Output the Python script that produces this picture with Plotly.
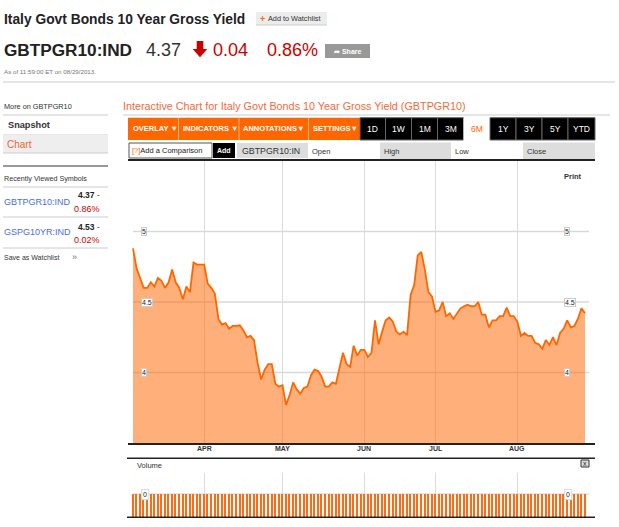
import plotly.graph_objects as go

W, H = 619, 527
FONT = "Liberation Sans, Arial, sans-serif"

# ---------------- data ----------------
yields = [4.88, 4.74, 4.67, 4.60, 4.60, 4.64, 4.61, 4.67, 4.65, 4.60,
          4.64, 4.73, 4.64, 4.60, 4.52, 4.61, 4.57, 4.78, 4.765, 4.765,
          4.765, 4.63, 4.60, 4.56, 4.38, 4.34, 4.35, 4.31, 4.33, 4.33,
          4.335, 4.30, 4.25, 4.26, 4.23, 4.07, 3.95, 4.02, 4.06, 4.06,
          3.92, 3.90, 3.91, 3.77, 3.84, 3.93, 3.88, 3.85, 3.89, 3.90,
          3.98, 4.02, 4.01, 3.97, 3.90, 3.90, 3.93, 3.92, 4.03, 4.14,
          4.06, 4.04, 4.19, 4.12, 4.16, 4.16, 4.11, 4.14, 4.37, 4.20,
          4.29, 4.37, 4.39, 4.36, 4.29, 4.27, 4.29, 4.265, 4.55, 4.62,
          4.83, 4.855, 4.73, 4.57, 4.54, 4.43, 4.44, 4.50, 4.40, 4.42,
          4.38, 4.42, 4.455, 4.47, 4.48, 4.47, 4.47, 4.50, 4.41, 4.41,
          4.32, 4.37, 4.37, 4.40, 4.40, 4.46, 4.40, 4.40, 4.36, 4.26,
          4.28, 4.26, 4.26, 4.21, 4.20, 4.17, 4.23, 4.195, 4.25, 4.195,
          4.28, 4.31, 4.37, 4.32, 4.33, 4.38, 4.455, 4.42]
trading_day = list(range(len(yields)))
volume = [0] * len(yields)

month_labels = ["APR", "MAY", "JUN", "JUL", "AUG"]
month_pos = [20, 42, 65, 85, 108]          # trading-day index of month start
y_ticks = [4, 4.5, 5]
y_tick_labels = ["4", "4.5", "5"]


def X(px):
    return px / W


def Y(py):
    return 1 - py / H


shapes = []
annotations = []


def rect(x0, y0, x1, y1, fill, line=None, lw=0):
    shapes.append(dict(type="rect", xref="paper", yref="paper",
                       x0=X(x0), x1=X(x1), y0=Y(y1), y1=Y(y0),
                       fillcolor=fill, line=dict(color=line or fill, width=lw)))


def hline(x0, x1, y, color, w=1):
    shapes.append(dict(type="line", xref="paper", yref="paper",
                       x0=X(x0), x1=X(x1), y0=Y(y), y1=Y(y),
                       line=dict(color=color, width=w)))


def vline(x, y0, y1, color, w=1):
    shapes.append(dict(type="line", xref="paper", yref="paper",
                       x0=X(x), x1=X(x), y0=Y(y0), y1=Y(y1),
                       line=dict(color=color, width=w)))


def text(x, y, s, size, color, anchor="left"):
    annotations.append(dict(xref="paper", yref="paper", x=X(x), y=Y(y), text=s,
                            showarrow=False, xanchor=anchor, yanchor="middle",
                            font=dict(family=FONT, size=size, color=color)))


# ---------------- header ----------------
text(2, 19.5, "<b>Italy Govt Bonds 10 Year Gross Yield</b>", 13.8, "#222")
rect(256, 12, 327, 25, "#ececec")
hline(256, 327, 25, "#cccccc", 1)
text(257.5, 18.5, "<b>+</b>", 9, "#ff6600")
text(266, 18.5, "Add to Watchlist", 7.3, "#333")

text(2, 50, "<b>GBTPGR10:IND</b>", 17.2, "#222")
text(144, 50, "4.37", 18, "#333")
arrow = [(196.7, 41), (203.3, 41), (203.3, 49), (207.3, 49), (200, 57.3), (192.7, 49), (196.7, 49)]
path = "M " + " L ".join(f"{X(a):.5f},{Y(b):.5f}" for a, b in arrow) + " Z"
shapes.append(dict(type="path", xref="paper", yref="paper", path=path,
                   fillcolor="#cc0000", line=dict(color="#cc0000", width=0)))
text(211, 50, "0.04", 18, "#cc0000")
text(265, 50, "0.86%", 18, "#cc0000")
rect(325, 44, 370, 58, "#999999")
text(347.5, 51, "<b>➦ Share</b>", 7, "#ffffff", anchor="center")
text(2, 71, "As of 11:59:00 ET on 08/29/2013.", 6.2, "#777")
hline(3, 615, 82, "#cccccc", 1.2)

# ---------------- sidebar ----------------
text(2, 107, "More on GBTPGR10", 7.3, "#333")
hline(3, 108, 115, "#cccccc", 1)
text(6, 125, "<b>Snapshot</b>", 9.2, "#333")
hline(3, 108, 135, "#cccccc", 1)
rect(3, 135, 108, 153, "#eeeeee")
text(5, 144.5, "Chart", 10, "#f26430")
hline(3, 108, 153, "#cccccc", 1)
hline(3, 108, 166, "#333333", 1)

text(2, 179, "Recently Viewed Symbols", 7.2, "#333")
hline(3, 108, 187, "#cccccc", 1)
text(2, 202, "GBTPGR10:IND", 9, "#4a6ee0")
text(102, 195, "<b>4.37</b> <span style='color:#cc0000'>-</span>", 8.5, "#222", anchor="right")
text(102, 209, "0.86%", 9, "#cc0000", anchor="right")
hline(3, 108, 217, "#cccccc", 1)
text(2, 232, "GSPG10YR:IND", 9, "#4a6ee0")
text(102, 226.5, "<b>4.53</b> <span style='color:#cc0000'>-</span>", 8.5, "#222", anchor="right")
text(102, 239.5, "0.02%", 9, "#cc0000", anchor="right")
hline(3, 108, 248, "#cccccc", 1)
text(2, 257, "Save as Watchlist", 7, "#333")
text(70, 257, "»", 9, "#777")

# ---------------- chart header / toolbar ----------------
text(121, 106, "Interactive Chart for Italy Govt Bonds 10 Year Gross Yield (GBTPGR10)", 10.8, "#f26a3d")
hline(123, 610, 115, "#cccccc", 1)

rect(128, 117.7, 360, 140, "#ff6600")
for sx in [178.5, 239, 308.5]:
    vline(sx, 117.7, 140, "#ffb27f", 1)
text(131, 128.5, "<b>OVERLAY ▼</b>", 7.5, "#ffffff")
text(181, 128.5, "<b>INDICATORS ▼</b>", 7.5, "#ffffff")
text(241, 128.5, "<b>ANNOTATIONS▼</b>", 7.5, "#ffffff")
text(311, 128.5, "<b>SETTINGS▼</b>", 7.5, "#ffffff")

buttons = [("1D", 360, 385.5), ("1W", 385.5, 411.5), ("1M", 411.5, 437.5), ("3M", 437.5, 463.5),
           ("6M", 463.5, 490), ("1Y", 490, 516), ("3Y", 516, 542), ("5Y", 542, 568), ("YTD", 568, 595)]
for lab, bx0, bx1 in buttons:
    if lab == "6M":
        rect(bx0, 117.7, bx1, 140, "#ffffff")
        text((bx0 + bx1) / 2, 129, lab, 8.5, "#ff6600", anchor="center")
    else:
        rect(bx0, 117.7, bx1, 140, "#000000", line="#666666", lw=1)
        text((bx0 + bx1) / 2, 129, lab, 8.5, "#ffffff", anchor="center")

rect(129, 143, 212, 158, "#ffffff", line="#555555", lw=1)
text(130, 150.5, "<span style='color:#ff6600'>[?]</span>Add a Comparison", 7.5, "#222")
rect(213, 143, 235, 158, "#000000")
text(224, 150.5, "<b>Add</b>", 7, "#ffffff", anchor="center")
rect(237, 143, 308, 158, "#dddddd")
text(240, 151, "GBTPGR10:IN", 8.8, "#333")
text(309.5, 151, "Open", 7.5, "#333")
rect(380, 142.5, 451, 159, "#dddddd")
text(381.5, 151, "High", 7.5, "#333")
text(452.5, 151, "Low", 7.5, "#333")
rect(523, 142.5, 595, 159, "#dddddd")
text(524.5, 151, "Close", 7.5, "#333")

text(561.5, 176, "<b>Print</b>", 7.5, "#333")

# ---------------- main chart ----------------
for v in y_ticks:
    shapes.append(dict(type="line", xref="paper", yref="y", x0=X(133), x1=X(589), y0=v, y1=v,
                       line=dict(color="#d9d9d9", width=1.5), layer="below"))
for v, lab in zip(y_ticks, y_tick_labels):
    for lx in (141, 564):
        annotations.append(dict(xref="paper", yref="y", x=X(lx), y=v, text=lab, showarrow=False,
                                xanchor="left", yanchor="middle", bgcolor="#ffffff",
                                bordercolor="#cccccc", borderwidth=1, borderpad=0,
                                font=dict(family=FONT, size=7, color="#222")))
for p, lab in zip(month_pos, month_labels):
    annotations.append(dict(xref="x", yref="paper", x=p, y=Y(448), text="<b>" + lab + "</b>",
                            showarrow=False, xanchor="center", yanchor="middle",
                            font=dict(family=FONT, size=7, color="#333")))

hline(127, 595, 458.3, "#222222", 1.5)
hline(127, 595, 517.3, "#222222", 1.5)

# ---------------- volume panel ----------------
text(134.5, 465, "Volume", 7.5, "#333")
rect(581, 460, 589, 467, "#dddddd", line="#333333", lw=1)
text(585, 463.5, "x", 7, "#222", anchor="center")
shapes.append(dict(type="line", xref="paper", yref="y2", x0=X(133), x1=X(589), y0=0, y1=0,
                   line=dict(color="#dddddd", width=1.5), layer="below"))
for lx in (140.5, 564):
    annotations.append(dict(xref="paper", yref="y2", x=X(lx), y=0, text="0", showarrow=False,
                            xanchor="left", yanchor="middle", bgcolor="#ffffff",
                            bordercolor="#dddddd", borderwidth=1, borderpad=1,
                            font=dict(family=FONT, size=7, color="#222")))

fig = go.Figure()
fig.add_trace(go.Scatter(x=trading_day, y=yields, mode="lines", fill="tozeroy",
                         line=dict(color="#ff6600", width=1.8),
                         fillcolor="rgba(255,102,0,0.52)", hoverinfo="skip",
                         xaxis="x", yaxis="y"))
floor = -1
fig.add_trace(go.Bar(x=trading_day, y=[v - floor for v in volume], base=[floor] * len(volume),
                     marker=dict(color="#ff6a13", line=dict(width=0)), width=0.42,
                     hoverinfo="skip", xaxis="x2", yaxis="y2"))

xr = [-(133 - 128) / 3.559, 127 + (595 - 585) / 3.559]
fig.update_layout(
    width=W, height=H, margin=dict(l=0, r=0, t=0, b=0),
    paper_bgcolor="#ffffff", plot_bgcolor="#ffffff", showlegend=False,
    xaxis=dict(domain=[X(128), X(595)], range=xr, tickvals=month_pos, showticklabels=False,
               showgrid=True, gridcolor="#dcdcdc", gridwidth=1, zeroline=False,
               showline=True, linecolor="#222222", linewidth=1.5, mirror=True,
               ticks="", anchor="y", fixedrange=True),
    yaxis=dict(domain=[Y(443), Y(161)], range=[3.5, 5.5], showgrid=False, showticklabels=False,
               zeroline=False, showline=False, anchor="x", fixedrange=True),
    xaxis2=dict(domain=[X(128), X(595)], range=xr, tickvals=month_pos, showticklabels=False,
                showgrid=True, gridcolor="#dcdcdc", gridwidth=1, zeroline=False,
                showline=False, ticks="", anchor="y2", matches="x", fixedrange=True),
    yaxis2=dict(domain=[Y(517), Y(473)], range=[-1, 0.913], showgrid=False, showticklabels=False,
                zeroline=False, showline=False, anchor="x2", fixedrange=True),
    bargap=0,
    shapes=shapes, annotations=annotations,
)

fig.write_html("out.html", config={"displayModeBar": False},
               post_script="document.body.style.margin='0';document.body.style.overflow='hidden';")
